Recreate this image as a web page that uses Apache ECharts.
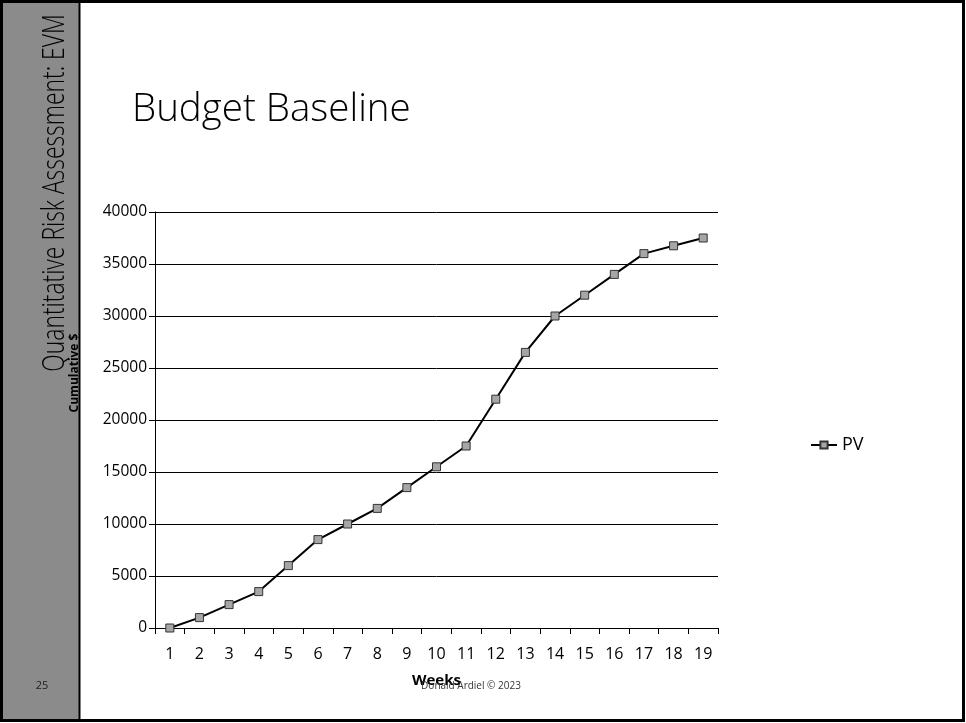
<!DOCTYPE html>
<html>
<head>
<meta charset="utf-8">
<script src="https://cdn.jsdelivr.net/npm/echarts@6/dist/echarts.min.js"></script>
<style>
  html, body { margin: 0; padding: 0; background: #fff; }
  #chart { width: 966px; height: 723px; }
</style>
</head>
<body>
<div id="chart"></div>
<script>
// Weekly planned value (cumulative budget) for the project baseline
const weeks = ['1','2','3','4','5','6','7','8','9','10','11','12','13','14','15','16','17','18','19'];
const pv = [0, 1000, 2250, 3500, 6000, 8500, 10000, 11500, 13500, 15500, 17500, 22000, 26500, 30000, 32000, 34000, 36000, 36750, 37500];
const yTicks = { min: 0, max: 40000, interval: 5000 };

const FONT = 'Open Sans';
const chart = echarts.init(document.getElementById('chart'), null, { renderer: 'canvas' });

chart.setOption({
  backgroundColor: '#ffffff',
  animation: false,
  textStyle: { fontFamily: FONT },
  graphic: [
    // slide frame and side band
    { type: 'rect', z: 0, shape: { x: 2, y: 2, width: 77, height: 718 }, style: { fill: '#8b8b8b' } },
    { type: 'line', z: 1, shape: { x1: 79.5, y1: 2, x2: 79.5, y2: 720 }, style: { stroke: '#000', lineWidth: 2 } },
    { type: 'rect', z: 1, shape: { x: 1.5, y: 1.5, width: 962, height: 719 }, style: { fill: 'none', stroke: '#000', lineWidth: 3 } },
    {
      type: 'text', z: 2, x: 55, y: 193, rotation: Math.PI / 2, scaleX: 0.715,
      style: { text: 'Quantitative Risk Assessment: EVM', fill: '#000', font: '300 32px "Open Sans"', align: 'center', verticalAlign: 'middle' }
    },
    {
      type: 'text', z: 2, x: 42, y: 686,
      style: { text: '25', fill: '#222', font: '11px "Open Sans"', align: 'center', verticalAlign: 'middle' }
    },
    {
      type: 'text', z: 2, x: 132, y: 110,
      style: { text: 'Budget Baseline', fill: '#000', font: '300 38.5px "Open Sans"', align: 'left', verticalAlign: 'middle' }
    },
    {
      type: 'text', z: 2, x: 471, y: 686,
      style: { text: 'Donald Ardiel \u00a9 2023', fill: '#333', font: '10px "Open Sans"', align: 'center', verticalAlign: 'middle' }
    }
  ],
  legend: {
    data: ['PV'],
    left: 805,
    top: 431,
    itemWidth: 26,
    itemHeight: 9,
    itemGap: 4,
    textStyle: { fontFamily: FONT, fontSize: 18, color: '#000' }
  },
  grid: { left: 155, right: 248, top: 212, bottom: 95, containLabel: false },
  xAxis: {
    type: 'category',
    data: weeks,
    boundaryGap: true,
    name: 'Weeks',
    nameLocation: 'middle',
    nameGap: 45,
    nameTextStyle: { fontFamily: FONT, fontWeight: 'bold', fontSize: 15, color: '#000' },
    axisLine: { lineStyle: { color: '#000', width: 1 } },
    axisTick: { show: true, alignWithLabel: false, length: 6, lineStyle: { color: '#000' } },
    axisLabel: { fontFamily: FONT, fontSize: 16, color: '#000', margin: 18 },
    splitLine: { show: false }
  },
  yAxis: {
    type: 'value',
    min: yTicks.min,
    max: yTicks.max,
    interval: yTicks.interval,
    name: 'Cumulative $',
    nameLocation: 'middle',
    nameRotate: 90,
    nameGap: 74,
    nameTextStyle: { fontFamily: FONT, fontWeight: 'bold', fontSize: 12, color: '#000', padding: [0, 0, 0, 94] },
    axisLine: { show: true, lineStyle: { color: '#000', width: 1 } },
    axisTick: { show: true, length: 6, lineStyle: { color: '#000' } },
    axisLabel: { fontFamily: FONT, fontSize: 15.5, color: '#000', margin: 8, formatter: v => String(v) },
    splitLine: { show: true, lineStyle: { color: '#000', width: 1 } }
  },
  series: [{
    name: 'PV',
    type: 'line',
    data: pv,
    symbol: 'rect',
    symbolSize: 8,
    lineStyle: { color: '#000', width: 2 },
    itemStyle: { color: '#a6a6a6', borderColor: '#333', borderWidth: 1 }
  }]
});
</script>
</body>
</html>
